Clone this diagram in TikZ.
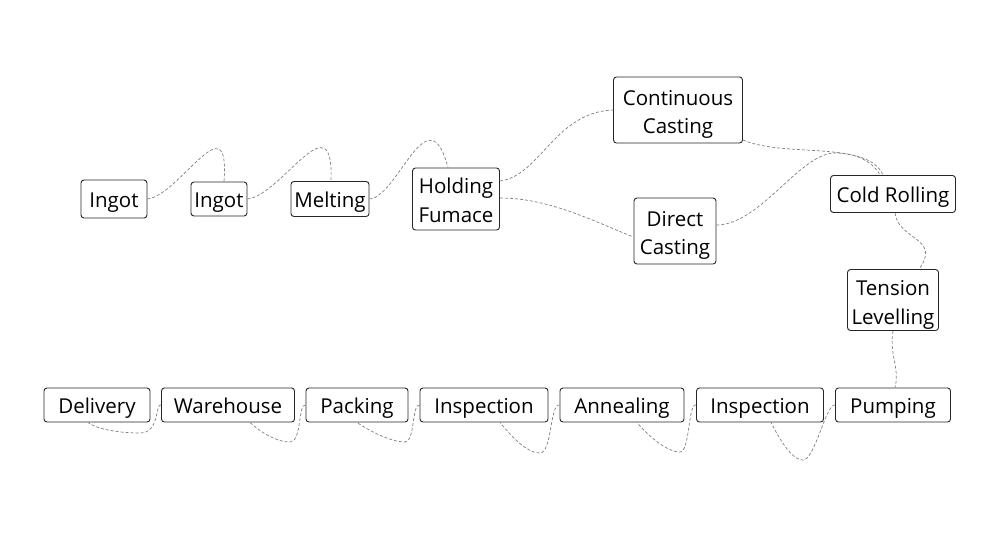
\documentclass[tikz,border=0pt]{standalone}
\usepackage{fontspec}
\setmainfont{Open Sans}
\newcommand{\dn}[1]{\rule{0pt}{#1pt}}
\begin{document}
\begin{tikzpicture}[x=1pt,y=-1pt,
  box/.style={draw=black!85,line width=0.9pt,rounded corners=3pt,fill=white,
    align=center,inner sep=0pt,font=\fontsize{20.5}{28.5}\selectfont},
  one/.style={text height=23pt,text depth=5.5pt},
  conn/.style={draw=black!50,line width=0.7pt,dash pattern=on 3pt off 2pt}]
\fill[white] (0,0) rectangle (1000,536);
\useasboundingbox (0,0) rectangle (1000,536);
% top row
\node[box,one,minimum width=66pt,minimum height=38pt] (ing1) at (114,199) {Ingot};
\node[box,one,minimum width=56pt,minimum height=34pt] (ing2) at (219,199) {Ingot};
\node[box,one,minimum width=78pt,minimum height=35pt] (melt) at (330,199) {Melting};
\node[box,minimum width=87pt,minimum height=62pt] (hold) at (456,199) {\dn{18.5}Holding\\Fumace};
\node[box,minimum width=129pt,minimum height=66pt] (cont) at (678,110) {\dn{24}Continuous\\Casting};
\node[box,minimum width=82pt,minimum height=66pt] (dir) at (675,231) {\dn{24}Direct\\Casting};
\node[box,one,minimum width=125pt,minimum height=37pt] (cold) at (893,194) {Cold Rolling};
\node[box,minimum width=91pt,minimum height=61pt] (tens) at (893,300) {\dn{25}Tension\\Levelling};
% bottom row
\node[box,one,minimum width=115pt,minimum height=34pt] (pump) at (893,405) {Pumping};
\node[box,one,minimum width=127pt,minimum height=34pt] (insp2) at (760,405) {Inspection};
\node[box,one,minimum width=124pt,minimum height=34pt] (ann) at (622,405) {Annealing};
\node[box,one,minimum width=128pt,minimum height=34pt] (insp1) at (484,405) {Inspection};
\node[box,one,minimum width=102pt,minimum height=34pt] (pack) at (357,405) {Packing};
\node[box,one,minimum width=133pt,minimum height=34pt] (ware) at (228,405) {Warehouse};
\node[box,one,minimum width=106pt,minimum height=34pt] (deliv) at (97,405) {Delivery};
% connectors
\draw[conn] (ing1.east) .. controls (180,195) and (230,100) .. (ing2.north -| 224,0);
\draw[conn] (ing2.east) .. controls (282,195) and (334,98) .. (melt.north -| 331,0);
\draw[conn] (melt.east) .. controls (398,197) and (428,92) .. (hold.north -| 448,0);
\draw[conn] (hold.east |- 0,181) .. controls (540,176) and (555,112) .. (cont.west);
\draw[conn] (hold.east |- 0,198) .. controls (550,198) and (595,222) .. (dir.west |- 0,237);
\draw[conn] (cont.south east |- 0,140) .. controls (785,158) and (868,140) .. (cold.north -| 883,0);
\draw[conn] (dir.east |- 0,225) .. controls (760,225) and (800,153) .. (835,153)
   .. controls (860,153) and (875,165) .. (cold.north -| 880,0);
\draw[conn] (cold.south -| 895,0) .. controls (898,240) and (942,238) .. (tens.north -| 919,0);
\draw[conn] (tens.south) .. controls (889,355) and (900,368) .. (pump.north -| 895,0);
\coordinate (d1) at (803,460);
\draw[conn] (pump.west) .. controls (826,403) and (815,460) .. (d1)
   .. controls (790,460) and (776,432) .. (insp2.south -| 771,0);
\coordinate (d2) at (680,452);
\draw[conn] (insp2.west) .. controls (688,403) and (690,452) .. (d2)
   .. controls (665,452) and (645,432) .. (ann.south -| 637,0);
\coordinate (d3) at (540,453);
\draw[conn] (ann.west) .. controls (550,403) and (552,453) .. (d3)
   .. controls (525,453) and (508,432) .. (insp1.south -| 500,0);
\coordinate (d4) at (405,442);
\draw[conn] (insp1.west) .. controls (412,403) and (415,442) .. (d4)
   .. controls (390,442) and (368,430) .. (pack.south -| 357,0);
\coordinate (d5) at (290,442);
\draw[conn] (pack.west) .. controls (298,403) and (302,442) .. (d5)
   .. controls (275,442) and (258,430) .. (ware.south -| 250,0);
\coordinate (d6) at (140,433);
\draw[conn] (ware.west) .. controls (155,403) and (160,433) .. (d6)
   .. controls (115,433) and (95,428) .. (deliv.south -| 88,0);
\end{tikzpicture}
\end{document}
